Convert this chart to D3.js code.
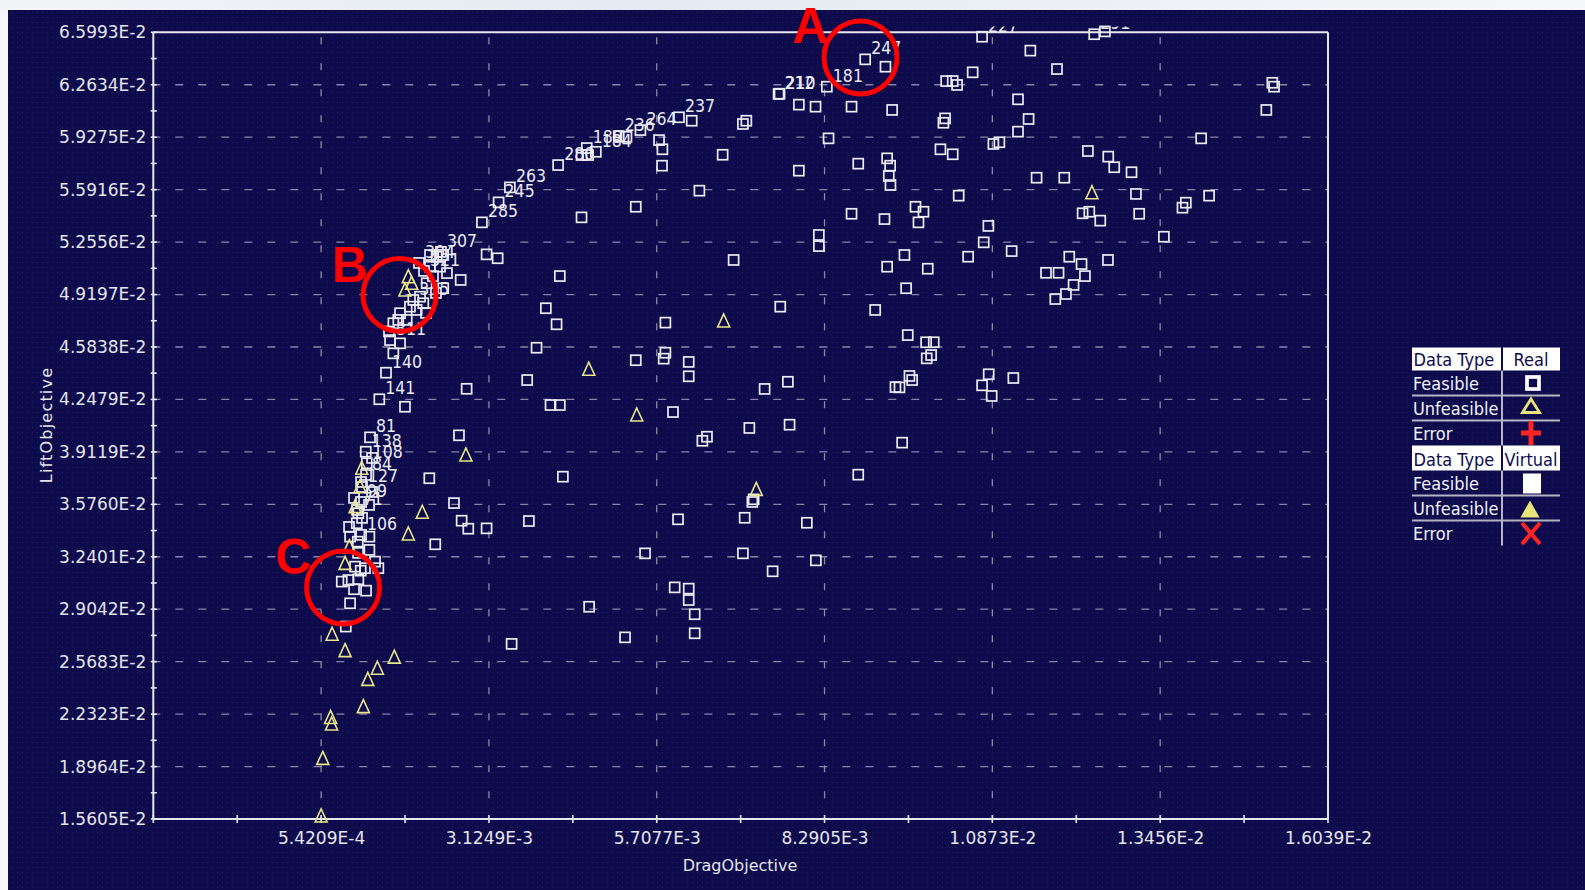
<!DOCTYPE html>
<html>
<head>
<meta charset="utf-8">
<script src="https://cdn.jsdelivr.net/npm/d3@7"></script>
<style>
  html, body { margin: 0; padding: 0; background: #eef1f6; }
  svg { display: block; }
</style>
</head>
<body>
<svg id="chart" width="1585" height="890"></svg>
<script>
// ---------- axis ticks ----------
const xTickValues = [-2.0407e-3, 5.4209e-4, 3.1249e-3, 5.7077e-3, 8.2905e-3, 1.0873e-2, 1.3456e-2, 1.6039e-2];
const xTickLabels = ["", "5.4209E-4", "3.1249E-3", "5.7077E-3", "8.2905E-3", "1.0873E-2", "1.3456E-2", "1.6039E-2"];
const yTickValues = [1.5605e-2, 1.8964e-2, 2.2323e-2, 2.5683e-2, 2.9042e-2, 3.2401e-2, 3.5760e-2, 3.9119e-2,
                     4.2479e-2, 4.5838e-2, 4.9197e-2, 5.2556e-2, 5.5916e-2, 5.9275e-2, 6.2634e-2, 6.5993e-2];
const yTickLabels = ["1.5605E-2", "1.8964E-2", "2.2323E-2", "2.5683E-2", "2.9042E-2", "3.2401E-2", "3.5760E-2", "3.9119E-2",
                     "4.2479E-2", "4.5838E-2", "4.9197E-2", "5.2556E-2", "5.5916E-2", "5.9275E-2", "6.2634E-2", "6.5993E-2"];

const xTitle = "DragObjective";
const yTitle = "LiftObjective";

// ---------- real designs: feasible (square), [drag, lift, run id] ----------
const feasibleReal = [
  [8.916e-3, 6.426e-2, "247"], [9.228e-3, 6.379e-2], [8.326e-3, 6.251e-2, "181"],
  [7.583e-3, 6.204e-2, "212"], [7.598e-3, 6.206e-2, "210"], [7.895e-3, 6.136e-2], [8.152e-3, 6.123e-2],
  [8.706e-3, 6.123e-2], [9.331e-3, 6.102e-2], [7.087e-3, 6.033e-2], [7.034e-3, 6.012e-2],
  [6.246e-3, 6.033e-2], [6.050e-3, 6.055e-2, "237"], [5.457e-3, 5.973e-2, "264"],
  [5.123e-3, 5.935e-2, "236"], [5.242e-3, 5.930e-2], [4.770e-3, 5.834e-2, "184"],
  [4.631e-3, 5.858e-2, "189"], [4.651e-3, 5.813e-2], [4.550e-3, 5.813e-2], [4.190e-3, 5.749e-2, "280"],
  [5.743e-3, 5.909e-2], [5.795e-3, 5.850e-2], [5.789e-3, 5.745e-2], [6.722e-3, 5.815e-2],
  [8.352e-3, 5.920e-2], [7.895e-3, 5.713e-2], [8.809e-3, 5.758e-2], [9.254e-3, 5.792e-2],
  [9.300e-3, 5.745e-2], [9.279e-3, 5.679e-2], [9.305e-3, 5.621e-2],
  [3.448e-3, 5.606e-2, "263"], [3.274e-3, 5.510e-2, "245"], [3.017e-3, 5.382e-2, "285"],
  [6.364e-3, 5.585e-2], [5.385e-3, 5.482e-2], [4.550e-3, 5.414e-2], [8.706e-3, 5.437e-2],
  [9.213e-3, 5.403e-2], [8.203e-3, 5.301e-2], [8.203e-3, 5.230e-2], [6.891e-3, 5.141e-2],
  [3.089e-3, 5.177e-2], [3.259e-3, 5.152e-2], [2.690e-3, 5.013e-2], [4.216e-3, 5.038e-2],
  [9.254e-3, 5.098e-2],
  [1.0715e-2, 6.571e-2, "227"], [1.2441e-2, 6.587e-2, "291"], [1.2606e-2, 6.605e-2, "294"],
  [1.1458e-2, 6.482e-2], [1.1868e-2, 6.364e-2], [1.0570e-2, 6.343e-2], [1.0162e-2, 6.287e-2],
  [1.0263e-2, 6.287e-2], [1.0331e-2, 6.262e-2], [1.1268e-2, 6.170e-2], [1.1431e-2, 6.044e-2],
  [1.1268e-2, 5.963e-2], [1.0146e-2, 6.048e-2], [1.0120e-2, 6.020e-2], [1.0889e-2, 5.884e-2],
  [1.0981e-2, 5.895e-2], [1.0074e-2, 5.850e-2], [1.0263e-2, 5.818e-2], [1.2344e-2, 5.839e-2],
  [1.2657e-2, 5.803e-2], [1.2749e-2, 5.735e-2], [1.3015e-2, 5.703e-2], [1.1554e-2, 5.668e-2],
  [1.1980e-2, 5.668e-2], [1.0355e-2, 5.553e-2], [1.3083e-2, 5.564e-2], [9.690e-3, 5.482e-2],
  [9.813e-3, 5.450e-2], [9.736e-3, 5.382e-2], [1.0812e-2, 5.359e-2], [1.0740e-2, 5.254e-2],
  [1.1170e-2, 5.198e-2], [9.520e-3, 5.173e-2], [1.0500e-2, 5.162e-2], [9.879e-3, 5.085e-2],
  [9.546e-3, 4.960e-2], [1.2262e-2, 5.440e-2], [1.2365e-2, 5.450e-2], [1.2534e-2, 5.393e-2],
  [1.3133e-2, 5.437e-2], [1.2057e-2, 5.162e-2], [1.2246e-2, 5.115e-2], [1.2298e-2, 5.038e-2],
  [1.2652e-2, 5.141e-2], [1.1699e-2, 5.059e-2], [1.1892e-2, 5.059e-2], [1.2123e-2, 4.981e-2],
  [1.2006e-2, 4.923e-2], [1.1842e-2, 4.891e-2], [1.3513e-2, 5.290e-2], [1.4087e-2, 5.920e-2],
  [1.3799e-2, 5.476e-2], [1.3851e-2, 5.508e-2], [1.4209e-2, 5.553e-2], [1.5182e-2, 6.276e-2],
  [1.5209e-2, 6.251e-2], [1.5090e-2, 6.102e-2],
  [9.571e-3, 4.660e-2], [9.854e-3, 4.614e-2], [9.971e-3, 4.614e-2], [9.931e-3, 4.532e-2],
  [9.863e-3, 4.511e-2], [9.597e-3, 4.398e-2], [9.639e-3, 4.372e-2], [9.444e-3, 4.325e-2],
  [1.0817e-2, 4.409e-2], [1.0715e-2, 4.338e-2], [1.0863e-2, 4.270e-2], [1.1196e-2, 4.385e-2],
  [9.485e-3, 3.971e-2],
  [4.001e-3, 4.832e-2], [4.166e-3, 4.729e-2], [5.841e-3, 4.740e-2], [7.609e-3, 4.842e-2],
  [9.070e-3, 4.821e-2], [3.858e-3, 4.579e-2], [5.385e-3, 4.499e-2], [5.841e-3, 4.547e-2],
  [5.815e-3, 4.509e-2], [6.200e-3, 4.488e-2], [6.200e-3, 4.396e-2], [3.714e-3, 4.372e-2],
  [2.782e-3, 4.316e-2], [4.073e-3, 4.212e-2], [4.216e-3, 4.212e-2], [7.368e-3, 4.315e-2],
  [7.726e-3, 4.361e-2], [9.382e-3, 4.327e-2], [5.958e-3, 4.167e-2], [7.133e-3, 4.065e-2],
  [7.752e-3, 4.086e-2], [6.481e-3, 4.009e-2], [6.410e-3, 3.983e-2], [2.664e-3, 4.018e-2],
  [1.833e-3, 4.201e-2], [2.207e-3, 3.743e-2], [4.263e-3, 3.753e-2], [8.809e-3, 3.766e-2],
  [7.199e-3, 3.608e-2], [7.179e-3, 3.591e-2], [2.587e-3, 3.584e-2], [2.705e-3, 3.471e-2],
  [2.807e-3, 3.420e-2], [3.089e-3, 3.422e-2], [2.299e-3, 3.320e-2], [3.740e-3, 3.469e-2],
  [6.035e-3, 3.480e-2], [7.061e-3, 3.490e-2], [8.018e-3, 3.458e-2], [5.528e-3, 3.262e-2],
  [7.034e-3, 3.262e-2], [8.157e-3, 3.217e-2], [7.491e-3, 3.147e-2], [5.984e-3, 3.044e-2],
  [6.200e-3, 3.036e-2], [6.200e-3, 2.963e-2], [6.292e-3, 2.872e-2], [4.667e-3, 2.920e-2],
  [5.220e-3, 2.724e-2], [6.292e-3, 2.750e-2], [3.474e-3, 2.682e-2],
  // dense front near the low-drag edge
  [2.218e-3, 5.173e-2], [2.321e-3, 5.162e-2], [2.422e-3, 5.173e-2], [2.218e-3, 5.098e-2],
  [2.372e-3, 5.098e-2], [2.167e-3, 4.992e-2], [2.422e-3, 4.960e-2], [2.064e-3, 4.906e-2],
  [1.961e-3, 4.885e-2, "315"], [2.115e-3, 4.864e-2], [1.910e-3, 4.842e-2], [2.013e-3, 4.821e-2],
  [1.757e-3, 4.800e-2], [1.860e-3, 4.757e-2], [1.730e-3, 4.757e-2], [1.654e-3, 4.736e-2],
  [1.603e-3, 4.628e-2, "311"], [1.757e-3, 4.607e-2], [1.654e-3, 4.543e-2], [2.264e-3, 5.038e-2],
  [2.479e-3, 5.057e-2], [2.310e-3, 4.930e-2], [2.156e-3, 4.802e-2], [2.387e-3, 5.193e-2, "307"],
  [2.049e-3, 5.122e-2, "304"], [2.126e-3, 5.071e-2, "321"], [1.587e-3, 4.683e-2],
  [1.541e-3, 4.419e-2, "140"], [1.438e-3, 4.249e-2, "141"], [1.295e-3, 4.005e-2, "81"],
  [1.229e-3, 3.913e-2, "138"], [1.245e-3, 3.839e-2, "108"], [1.234e-3, 3.764e-2, "84"],
  [1.172e-3, 3.687e-2, "127"], [1.157e-3, 3.591e-2, "99"], [1.095e-3, 3.540e-2, "71"],
  [1.091e-3, 3.455e-2], [1.157e-3, 3.380e-2, "106"], [0.988e-3, 3.369e-2], [1.106e-3, 3.337e-2],
  [1.285e-3, 3.369e-2], [1.285e-3, 3.284e-2], [1.115e-3, 3.519e-2], [1.065e-3, 3.177e-2],
  [1.152e-3, 3.151e-2], [1.218e-3, 3.167e-2], [1.372e-3, 3.209e-2], [1.423e-3, 3.167e-2],
  [0.860e-3, 3.081e-2], [0.962e-3, 3.091e-2], [1.115e-3, 3.096e-2], [1.049e-3, 3.032e-2],
  [1.234e-3, 3.023e-2], [0.988e-3, 2.942e-2], [0.922e-3, 2.793e-2], [1.326e-3, 3.873e-2],
  [1.157e-3, 3.719e-2], [1.326e-3, 3.655e-2], [1.049e-3, 3.617e-2], [1.172e-3, 3.489e-2],
  [0.972e-3, 3.431e-2], [1.280e-3, 3.572e-2], [1.111e-3, 3.265e-2]
];

// ---------- real designs: unfeasible (triangle), [drag, lift] ----------
const unfeasibleReal = [
  [6.738e-3, 4.750e-2], [4.662e-3, 4.441e-2], [5.400e-3, 4.148e-2], [2.771e-3, 3.892e-2],
  [7.240e-3, 3.672e-2], [2.099e-3, 3.525e-2], [1.884e-3, 3.386e-2], [1.2406e-2, 5.572e-2],
  [0.711e-3, 2.744e-2], [0.911e-3, 2.639e-2], [1.669e-3, 2.597e-2], [1.408e-3, 2.526e-2],
  [1.260e-3, 2.455e-2], [1.192e-3, 2.280e-2], [0.688e-3, 2.211e-2], [0.703e-3, 2.169e-2],
  [0.568e-3, 1.949e-2], [0.542e-3, 1.580e-2], [0.911e-3, 3.198e-2], [0.977e-3, 3.305e-2],
  [1.065e-3, 3.561e-2], [1.142e-3, 3.689e-2], [1.168e-3, 3.807e-2], [1.884e-3, 5.034e-2],
  [1.936e-3, 4.992e-2], [1.833e-3, 4.949e-2]
];

// ---------- legend table ----------
const legendBlocks = [
  { type: "Real",    rows: ["Feasible", "Unfeasible", "Error"], icons: ["squareOutline", "triangleOutline", "plus"] },
  { type: "Virtual", rows: ["Feasible", "Unfeasible", "Error"], icons: ["squareFilled", "triangleFilled", "cross"] }
];

// ---------- highlighted regions ----------
const callouts = [
  { letter: "A", drag: 8.844e-3, lift: 6.438e-2 },
  { letter: "B", drag: 1.749e-3, lift: 4.917e-2 },
  { letter: "C", drag: 0.880e-3, lift: 3.0435e-2 }
];

// ===================================================================
const svg = d3.select("#chart");
const W = 1585, H = 890;
const plot = { left: 153.3, right: 1328, top: 32.3, bottom: 819 };

const x = d3.scaleLinear().domain([xTickValues[0], xTickValues[xTickValues.length - 1]]).range([plot.left, plot.right]);
const y = d3.scaleLinear().domain([yTickValues[0], yTickValues[yTickValues.length - 1]]).range([plot.bottom, plot.top]);

const defs = svg.append("defs");
const grad = defs.append("linearGradient").attr("id", "topBand").attr("x1", 0).attr("x2", 1).attr("y1", 0).attr("y2", 0);
grad.append("stop").attr("offset", "0%").attr("stop-color", "#f3f4f7");
grad.append("stop").attr("offset", "40%").attr("stop-color", "#e4eaf3");
grad.append("stop").attr("offset", "75%").attr("stop-color", "#eef1f6");
grad.append("stop").attr("offset", "100%").attr("stop-color", "#f6f7f9");
const pat = defs.append("pattern").attr("id", "dots").attr("width", 5).attr("height", 5).attr("patternUnits", "userSpaceOnUse");
pat.append("rect").attr("x", 2).attr("y", 2).attr("width", 1).attr("height", 1).attr("fill", "#2e2a70").attr("opacity", 0.55);
defs.append("clipPath").attr("id", "labelClip")
  .append("rect").attr("x", 0).attr("y", 26.5).attr("width", W).attr("height", H);

// page background and dark panel
svg.append("rect").attr("width", W).attr("height", H).attr("fill", "#f5f6f9");
svg.append("rect").attr("width", W).attr("height", 10).attr("fill", "url(#topBand)");
svg.append("rect").attr("x", 8).attr("y", 10).attr("width", W - 8).attr("height", H - 10).attr("fill", "#0d0b4b");
svg.append("rect").attr("x", 8).attr("y", 10).attr("width", W - 8).attr("height", H - 10).attr("fill", "url(#dots)");

// grid
const grid = svg.append("g");
grid.selectAll("line.h").data(yTickValues.slice(1, -1)).join("line")
  .attr("x1", plot.left).attr("x2", plot.right)
  .attr("y1", d => y(d)).attr("y2", d => y(d))
  .attr("stroke", "#8a83a8").attr("stroke-width", 1.3).attr("stroke-dasharray", "8 15")
  .attr("stroke-dashoffset", -22);
grid.selectAll("line.v").data(xTickValues.slice(1, -1)).join("line")
  .attr("x1", d => x(d)).attr("x2", d => x(d))
  .attr("y1", plot.top).attr("y2", plot.bottom)
  .attr("stroke", "#8e8aa6").attr("stroke-width", 1.3).attr("stroke-dasharray", "7 19")
  .attr("stroke-dashoffset", -5);

// frame
const axisColor = "#e6e6ef";
const frame = svg.append("g").attr("stroke", axisColor).attr("stroke-width", 2);
frame.append("line").attr("x1", plot.left).attr("x2", plot.right).attr("y1", plot.top).attr("y2", plot.top);
frame.append("line").attr("x1", plot.right).attr("x2", plot.right).attr("y1", plot.top).attr("y2", plot.bottom);
frame.append("line").attr("x1", plot.left).attr("x2", plot.left).attr("y1", plot.top).attr("y2", plot.bottom);
frame.append("line").attr("x1", plot.left).attr("x2", plot.right).attr("y1", plot.bottom).attr("y2", plot.bottom);

// tick marks (major + midpoint minor), crossing the axis lines
const mid = arr => arr.slice(1).map((v, i) => (v + arr[i]) / 2);
const yTicksAll = yTickValues.concat(mid(yTickValues));
const xTicksAll = xTickValues.concat(mid(xTickValues));
svg.append("g").selectAll("line").data(yTicksAll).join("line")
  .attr("x1", plot.left - 2.5).attr("x2", plot.left + 3.5)
  .attr("y1", d => y(d)).attr("y2", d => y(d))
  .attr("stroke", axisColor).attr("stroke-width", 1.6);
svg.append("g").selectAll("line").data(xTicksAll).join("line")
  .attr("x1", d => x(d)).attr("x2", d => x(d))
  .attr("y1", plot.bottom - 4).attr("y2", plot.bottom + 4)
  .attr("stroke", axisColor).attr("stroke-width", 1.6);

// axis labels through d3 axes
const tickFont = "'DejaVu Sans', sans-serif";
const yAxis = d3.axisLeft(y).tickValues(yTickValues).tickFormat((d, i) => yTickLabels[i]).tickSize(0).tickPadding(7);
const xAxis = d3.axisBottom(x).tickValues(xTickValues).tickFormat((d, i) => xTickLabels[i]).tickSize(0).tickPadding(13);
const gy = svg.append("g").attr("transform", `translate(${plot.left},0)`).call(yAxis);
const gx = svg.append("g").attr("transform", `translate(0,${plot.bottom})`).call(xAxis);
[gy, gx].forEach(g => {
  g.select(".domain").remove();
  g.selectAll("text").attr("fill", "#e4e4ec").style("font-family", tickFont).style("font-size", "17px");
});

// axis titles
svg.append("text").text(xTitle)
  .attr("x", 740).attr("y", 871).attr("text-anchor", "middle")
  .attr("fill", "#e4e4ec").style("font-family", tickFont).style("font-size", "16px");
svg.append("text").text(yTitle)
  .attr("transform", "translate(52,425) rotate(-90)").attr("text-anchor", "middle")
  .attr("fill", "#e4e4ec").style("font-family", tickFont).style("font-size", "16px")
  .style("letter-spacing", "1.2px");

// markers
const markers = svg.append("g");
markers.selectAll("rect").data(feasibleReal).join("rect")
  .attr("x", d => x(d[0]) - 5).attr("y", d => y(d[1]) - 5)
  .attr("width", 10).attr("height", 10)
  .attr("fill", "none").attr("stroke", "#ececf4").attr("stroke-width", 1.7);
const tri = "M0,-7L6,6L-6,6Z";
markers.selectAll("path").data(unfeasibleReal).join("path")
  .attr("d", tri)
  .attr("transform", d => `translate(${x(d[0])},${y(d[1])})`)
  .attr("fill", "none").attr("stroke", "#eae68c").attr("stroke-width", 1.6);

// run id labels
svg.append("g").attr("clip-path", "url(#labelClip)")
  .selectAll("text").data(feasibleReal.filter(d => d[2])).join("text")
  .text(d => d[2])
  .attr("x", d => x(d[0]) + 6).attr("y", d => y(d[1]) - 5)
  .attr("fill", "#ececf4")
  .style("font-family", "'DejaVu Sans Condensed', 'DejaVu Sans', sans-serif")
  .style("font-stretch", "condensed")
  .style("font-size", "17.5px");

// legend table
const lg = svg.append("g");
const legendFont = "'DejaVu Sans Condensed', 'DejaVu Sans', sans-serif";
const tL = 1412, tR = 1560, tDiv = 1502, iconX = 1531;
let rowTop = 347.5;
const yellow = "#e8e47a", red = "#ff2424";
legendBlocks.forEach((block, bi) => {
  const hh = bi === 0 ? 23 : 25;
  lg.append("rect").attr("x", tL).attr("y", rowTop).attr("width", tDiv - tL - 1).attr("height", hh).attr("fill", "#ffffff");
  lg.append("rect").attr("x", tDiv + 1).attr("y", rowTop).attr("width", tR - tDiv - 1).attr("height", hh).attr("fill", "#ffffff");
  lg.append("text").text("Data Type").attr("x", tL + 1.5).attr("y", rowTop + hh - 5)
    .attr("fill", "#0d0b4b").style("font-family", legendFont).style("font-stretch", "condensed").style("font-size", "18px");
  lg.append("text").text(block.type).attr("x", iconX).attr("y", rowTop + hh - 5).attr("text-anchor", "middle")
    .attr("fill", "#0d0b4b").style("font-family", legendFont).style("font-stretch", "condensed").style("font-size", "18px");
  const bodyTop = rowTop + hh;
  lg.append("line").attr("x1", tDiv).attr("x2", tDiv).attr("y1", bodyTop).attr("y2", bodyTop + 75)
    .attr("stroke", "#b4b4c4").attr("stroke-width", 2);
  block.rows.forEach((label, ri) => {
    const r0 = bodyTop + ri * 25, r1 = r0 + 25, cy = (r0 + r1) / 2;
    lg.append("text").text(label).attr("x", tL + 1).attr("y", r1 - 5.5)
      .attr("fill", "#f0f0f8").style("font-family", legendFont).style("font-stretch", "condensed").style("font-size", "18px");
    if (ri < 2) {
      lg.append("line").attr("x1", tL).attr("x2", tR).attr("y1", r1).attr("y2", r1)
        .attr("stroke", "#b4b4c4").attr("stroke-width", 2);
    }
    const icon = block.icons[ri];
    if (icon === "squareOutline") {
      lg.append("rect").attr("x", iconX - 4).attr("y", cy - 6).attr("width", 12).attr("height", 12)
        .attr("fill", "none").attr("stroke", "#ffffff").attr("stroke-width", 3.7);
    } else if (icon === "triangleOutline") {
      lg.append("path").attr("d", `M${iconX},${cy - 9}L${iconX + 8.5},${cy + 4.5}L${iconX - 8.5},${cy + 4.5}Z`)
        .attr("fill", "none").attr("stroke", yellow).attr("stroke-width", 2.8);
    } else if (icon === "plus") {
      lg.append("rect").attr("x", iconX - 10).attr("y", cy - 2.5).attr("width", 20).attr("height", 5).attr("fill", red);
      lg.append("rect").attr("x", iconX - 2.5).attr("y", cy - 12).attr("width", 5).attr("height", 24).attr("fill", red);
    } else if (icon === "squareFilled") {
      lg.append("rect").attr("x", iconX - 8).attr("y", cy - 9.5).attr("width", 18).attr("height", 20).attr("fill", "#ffffff");
    } else if (icon === "triangleFilled") {
      lg.append("path").attr("d", `M${iconX - 1},${cy - 7.5}L${iconX + 8.5},${cy + 9.5}L${iconX - 10.5},${cy + 9.5}Z`)
        .attr("fill", yellow);
    } else if (icon === "cross") {
      lg.append("path").attr("d", `M${iconX - 9},${cy - 10}L${iconX + 9},${cy + 11}M${iconX + 9},${cy - 10}L${iconX - 9},${cy + 11}`)
        .attr("stroke", red).attr("stroke-width", 4).attr("fill", "none");
    }
  });
  rowTop = bodyTop + 75;
});

// callout circles and letters
const callG = svg.append("g");
const letterOffsets = { A: [-50, -14.5], B: [-49.5, -13], C: [-49.5, -13.5] };
callouts.forEach(c => {
  const cx = x(c.drag), cy = y(c.lift);
  callG.append("circle").attr("cx", cx).attr("cy", cy).attr("r", 36.5)
    .attr("fill", "none").attr("stroke", "#ff0000").attr("stroke-width", 5);
  const off = letterOffsets[c.letter];
  callG.append("text").text(c.letter)
    .attr("x", cx + off[0]).attr("y", cy + off[1])
    .attr("text-anchor", "middle")
    .attr("fill", "#ff0000")
    .style("font-family", "'Liberation Sans', Arial, sans-serif")
    .style("font-weight", "bold").style("font-size", "50px");
});
</script>
</body>
</html>
